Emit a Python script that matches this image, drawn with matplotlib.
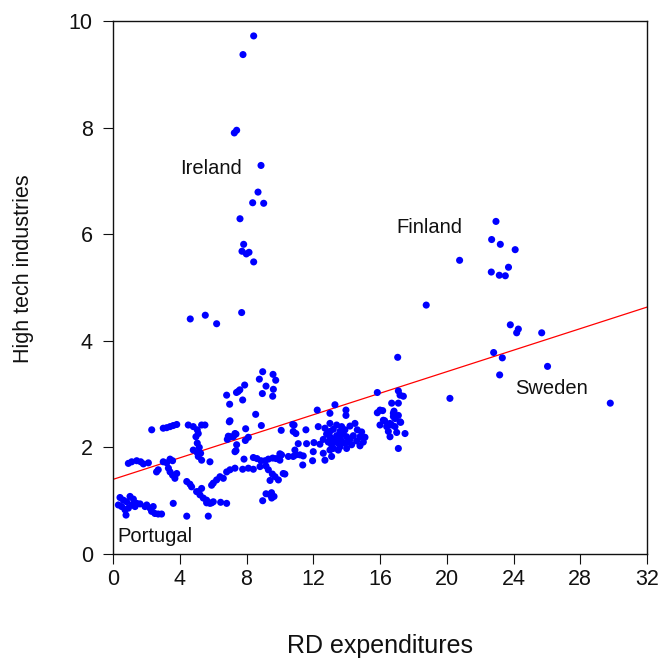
import matplotlib
matplotlib.use("Agg")
import matplotlib.pyplot as plt
import numpy as np

plt.rcParams['font.family'] = ['Liberation Sans', 'DejaVu Sans']

# RD expenditures (x) and High tech industries (y)
rd = [
    # Ireland outliers
    8.43, 7.79, 7.27, 7.41, 8.87, 8.69, 8.37, 9.03, 7.61, 7.83, 7.73, 7.99, 8.15, 8.43, 7.71, 4.63, 5.53, 6.21,
    # Finland / Sweden
    22.95, 22.69, 23.21, 24.1, 20.77, 23.7, 22.67, 23.15, 23.51, 18.77, 23.81, 24.19, 24.29, 25.69, 22.81, 23.33,
    26.04, 23.17, 17.06, 20.19, 29.8,
    # cluster 15.8-17.5
    15.84, 17.1, 17.4, 17.2, 16.7, 17.1, 16.16, 16.0, 15.84, 16.8, 16.84, 16.9, 17.1, 16.2, 16.28, 16.8, 17.24, 17.2,
    16.0, 16.6, 16.7, 16.4, 16.9, 16.5, 17.0, 16.6, 17.5, 17.1,
    # middle cluster
    10.08, 10.85, 10.96, 11.56, 12.24, 13.0, 13.3, 13.96, 13.96, 12.3, 12.7, 13.0, 13.2, 13.4, 13.7, 13.9, 14.2, 14.5,
    14.64, 14.9, 15.1, 14.8, 14.0, 13.6,
    12.8, 13.0, 13.2, 13.4, 13.6, 13.8, 14.0, 14.2, 14.4, 12.9, 13.1, 13.3, 13.5, 13.7, 13.9, 14.1, 14.3, 14.6, 13.2,
    13.5, 12.6, 14.8, 15.0, 13.0, 13.6,
    11.1, 11.6, 12.04, 12.4, 10.1, 10.8, 10.96, 11.2, 11.4, 12.0, 12.6, 12.7, 13.1, 13.0, 11.37, 11.96, 10.3, 10.9,
    # 6.8-10.6 upper
    8.97, 8.77, 9.59, 9.75, 9.17, 9.61, 8.95, 9.57, 7.89, 7.5, 7.4, 7.6, 6.81, 7.77, 6.99, 8.55, 7.01, 8.89, 7.95,
    7.31, 6.91, 6.85, 7.05, 7.93, 8.11, 7.37, 7.31, 7.85, 10.77, 10.8,
    # 7.8-10.5 lower
    8.41, 8.63, 8.87, 9.11, 9.31, 9.57, 9.77, 10.0, 10.0, 7.77, 8.41, 8.11, 8.81, 9.17, 9.31, 9.55, 9.71, 9.41, 9.91,
    10.2, 10.51, 9.17, 9.5, 9.65, 8.97, 9.41, 9.51,
    # left part
    2.32, 3.01, 3.22, 3.42, 3.61, 3.82, 4.51, 4.81, 5.05, 5.31, 5.51, 5.11, 4.97, 6.97, 7.21, 7.37, 5.05, 5.17, 4.81,
    5.05, 5.25, 5.11, 5.31, 5.81, 7.41,
    0.92, 1.12, 1.42, 1.66, 1.82, 2.12, 2.61, 2.71, 3.01, 3.22, 3.42, 3.57, 3.32, 3.42, 3.57, 3.71, 3.82,
    4.42, 4.61, 4.71, 5.11, 5.31, 5.91, 6.21, 6.41, 6.61, 6.81, 7.01, 7.31, 6.01,
    5.01, 5.21, 5.41, 5.61, 5.81, 6.01, 5.61, 5.91,
    3.61, 4.42, 5.71, 6.45, 6.81,
    # Portugal
    0.42, 0.62, 0.82, 1.02, 1.22, 1.12, 0.92, 0.72, 0.52, 0.32, 1.42, 1.62, 1.32, 0.78, 2.02, 2.22, 2.41, 2.31, 2.51,
    2.71, 2.91, 1.92,
]
hightech = [
    9.72, 9.37, 7.90, 7.95, 7.29, 6.79, 6.59, 6.58, 6.29, 5.81, 5.68, 5.63, 5.66, 5.48, 4.53, 4.41, 4.48, 4.32,
    6.24, 5.90, 5.81, 5.71, 5.51, 5.38, 5.29, 5.23, 5.22, 4.67, 4.30, 4.15, 4.22, 4.15, 3.78, 3.68,
    3.52, 3.36, 3.69, 2.92, 2.83,
    3.03, 3.06, 2.96, 2.98, 2.83, 2.83, 2.69, 2.70, 2.65, 2.64, 2.68, 2.54, 2.60, 2.51, 2.50, 2.58, 2.47, 2.48,
    2.42, 2.45, 2.42, 2.39, 2.39, 2.30, 2.28, 2.20, 2.26, 1.98,
    2.32, 2.42, 2.26, 2.33, 2.70, 2.64, 2.80, 2.70, 2.60, 2.39, 2.36, 2.45, 2.34, 2.42, 2.39, 2.33, 2.40, 2.45,
    2.33, 2.29, 2.19, 2.03, 1.98, 2.01,
    2.25, 2.20, 2.15, 2.22, 2.18, 2.25, 2.20, 2.15, 2.22, 2.10, 2.05, 2.10, 2.08, 2.12, 2.08, 2.10, 2.05, 2.12, 1.98,
    1.95, 2.15, 2.20, 2.10, 2.30, 2.30,
    2.07, 2.07, 2.09, 2.06, 1.86, 1.83, 1.86, 1.86, 1.84, 1.92, 1.89, 1.76, 1.83, 1.95, 1.67, 1.75, 1.50, 1.95,
    3.42, 3.28, 3.37, 3.26, 3.15, 3.09, 3.01, 2.96, 3.17, 3.05, 3.03, 3.08, 2.98, 2.89, 2.81, 2.62, 2.50, 2.41, 2.35,
    2.26, 2.21, 2.15, 2.20, 2.13, 2.19, 1.94, 1.92, 1.78, 2.43, 2.30,
    1.81, 1.79, 1.75, 1.75, 1.78, 1.80, 1.79, 1.88, 1.76, 1.59, 1.59, 1.61, 1.64, 1.65, 1.58, 1.50, 1.45, 1.38, 1.39,
    1.51, 1.83, 1.13, 1.15, 1.08, 1.00, 1.11, 1.05,
    2.33, 2.36, 2.37, 2.39, 2.41, 2.43, 2.42, 2.39, 2.33, 2.42, 2.42, 2.26, 2.20, 2.48, 2.20, 2.25, 2.08, 2.00, 1.95,
    1.90, 1.89, 1.83, 1.76, 1.73, 2.05,
    1.70, 1.73, 1.75, 1.73, 1.69, 1.71, 1.54, 1.58, 1.73, 1.71, 1.78, 1.75, 1.61, 1.54, 1.48, 1.42, 1.51,
    1.36, 1.31, 1.26, 1.17, 1.23, 1.29, 1.39, 1.45, 1.42, 1.54, 1.58, 1.61, 1.33,
    1.17, 1.11, 1.05, 1.01, 0.95, 0.98, 0.96, 0.96,
    0.95, 0.71, 0.71, 0.97, 0.95,
    1.06, 1.01, 0.98, 1.08, 1.03, 0.92, 0.86, 0.83, 0.89, 0.92, 0.95, 0.94, 0.89, 0.73, 0.92, 0.86, 0.89, 0.80, 0.76,
    0.75, 0.75, 0.89,
]

fit_intercept = 1.40
fit_slope = 0.101

labels = ["Ireland", "Finland", "Sweden", "Portugal"]
label_x = [4.0, 16.96, 24.1, 0.26]
label_y = [7.24, 6.12, 3.10, 0.33]

xticks = [0, 4, 8, 12, 16, 20, 24, 28, 32]
yticks = [0, 2, 4, 6, 8, 10]

fig = plt.figure(figsize=(6.64, 6.63), dpi=100)
ax = fig.add_axes([113/664, 1 - 554/663, 534/664, 533/663])

ax.scatter(rd, hightech, s=26, color='#0000ff', edgecolors='none', zorder=3)

xl = np.array([0, 32])
ax.plot(xl, fit_intercept + fit_slope * xl, color='#ff0000', lw=0.9, zorder=2)

for t, lx, ly in zip(labels, label_x, label_y):
    ax.text(lx, ly, t, fontsize=14.5, ha='left', va='center', color='#111111', zorder=4)

ax.set_xlim(0, 32)
ax.set_ylim(0, 10)
ax.set_xticks(xticks)
ax.set_yticks(yticks)
ax.tick_params(axis='both', direction='out', length=7, width=0.8, labelsize=15.5, colors='#111111')
ax.tick_params(axis='y', pad=7.5)
ax.tick_params(axis='x', pad=4)
for sp in ax.spines.values():
    sp.set_linewidth(1.0)
    sp.set_color('#111111')

ax.set_xlabel("RD expenditures", fontsize=18, color='#111111')
ax.set_ylabel("High tech industries", fontsize=15.5, color='#111111')
ax.xaxis.set_label_coords(0.5, -0.150)
ax.yaxis.set_label_coords(-0.148, 0.535)

fig.savefig("out.png", dpi=100)
